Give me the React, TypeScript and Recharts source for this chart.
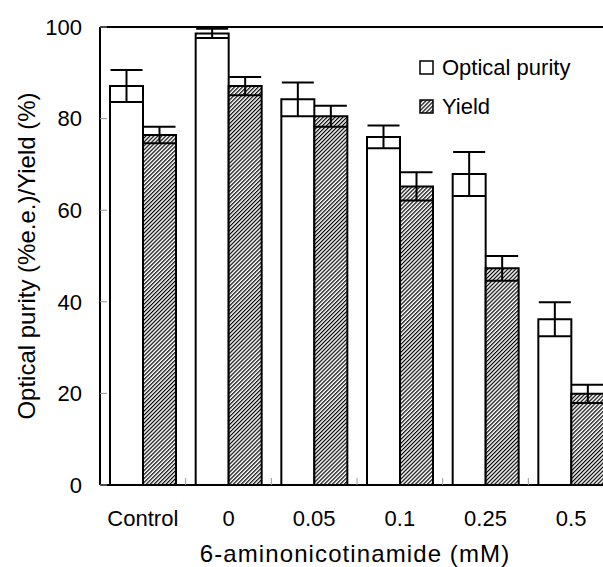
import React from 'react';
import { BarChart, Bar, XAxis, YAxis, ErrorBar, Legend, ReferenceLine } from 'recharts';

const categories = ['Control', '0', '0.05', '0.1', '0.25', '0.5'];
const opticalPurity = [87.1, 98.6, 84.2, 76.0, 67.9, 36.2];
const opticalErr = [3.5, 1.0, 3.7, 2.5, 4.8, 3.7];
const yieldVals = [76.4, 87.1, 80.5, 65.2, 47.3, 19.9];
const yieldErr = [1.8, 2.0, 2.3, 3.1, 2.7, 2.0];
const yTicks = [0, 20, 40, 60, 80, 100];

const data = categories.map((c, i) => ({
  name: c,
  optical: opticalPurity[i],
  opticalErr: opticalErr[i],
  yield: yieldVals[i],
  yieldErr: yieldErr[i],
}));

const FONT = '"Liberation Sans", Arial, sans-serif';
const FS = 22;
const TITLE_FS = 24;

const XTick = (props: any) => {
  const { x, y, payload, index } = props;
  const off = payload && payload.offset ? payload.offset : 514 / 12;
  return (
    <g>
      <text x={x} y={y + 41} textAnchor="middle" fontFamily={FONT} fontSize={FS} fill="#000">
        {payload.value}
      </text>
      {index < categories.length - 1 && (
        <line x1={x + off} x2={x + off} y1={y} y2={y - 7} stroke="#999" strokeWidth={1} />
      )}
    </g>
  );
};

const YLabel = (props: any) => {
  const vb = props.viewBox || { x: 0, y: 27, width: 100, height: 458 };
  const cx = vb.x + 26;
  const cy = vb.y + vb.height / 2;
  return (
    <text
      x={cx}
      y={cy}
      transform={`rotate(-90, ${cx}, ${cy})`}
      textAnchor="middle"
      dominantBaseline="central"
      fontFamily={FONT}
      fontSize={TITLE_FS}
      fill="#000"
    >
      Optical purity (%e.e.)/Yield (%)
    </text>
  );
};

const XLabel = (props: any) => {
  const vb = props.viewBox || { x: 100, y: 485, width: 514, height: 82 };
  return (
    <text
      x={vb.x + vb.width / 2 - 2}
      y={vb.y + 77}
      textAnchor="middle"
      fontFamily={FONT}
      fontSize={TITLE_FS}
      letterSpacing={1.1}
      fill="#000"
    >
      6-aminonicotinamide (mM)
    </text>
  );
};

const Hatch = ({ id }: { id: string }) => (
  <pattern id={id} patternUnits="userSpaceOnUse" width={2.8} height={10} patternTransform="rotate(45)">
    <rect x={0} y={0} width={2.8} height={10} fill="#fff" />
    <rect x={0} y={0} width={1.2} height={10} fill="#000" />
  </pattern>
);

const legendItems = [
  { label: 'Optical purity', fill: '#fff' },
  { label: 'Yield', fill: 'url(#hatchLegend)' },
];

const LegendContent = () => (
  <div style={{ fontFamily: FONT, fontSize: 22, color: '#000' }}>
    <svg width={0} height={0} style={{ position: 'absolute' }}>
      <defs>
        <Hatch id="hatchLegend" />
      </defs>
    </svg>
    {legendItems.map((it) => (
      <div key={it.label} style={{ display: 'flex', alignItems: 'center', height: 39, lineHeight: '39px' }}>
        <svg width={15} height={15} style={{ marginRight: 8 }}>
          <rect x={1} y={1} width={13} height={13} fill={it.fill} stroke="#000" strokeWidth={1.5} />
        </svg>
        <span>{it.label}</span>
      </div>
    ))}
  </div>
);

export default function App() {
  return (
    <div style={{ position: 'absolute', left: 0, top: 0, width: 603, height: 567, overflow: 'hidden', background: '#fff' }}>
      <BarChart
        width={620}
        height={567}
        data={data}
        margin={{ top: 27, right: 6, left: 0, bottom: 0 }}
        barSize={33}
        barGap={0}
      >
        <defs>
          <Hatch id="hatch" />
        </defs>
        <XAxis
          dataKey="name"
          height={82}
          tickSize={0}
          tickMargin={0}
          tickLine={false}
          tick={<XTick />}
          axisLine={{ stroke: '#000', strokeWidth: 2 }}
          interval={0}
          label={<XLabel />}
        />
        <YAxis
          width={100}
          domain={[0, 100]}
          ticks={yTicks}
          tickSize={-7}
          tickMargin={25}
          tickLine={{ stroke: '#999', strokeWidth: 1 }}
          axisLine={{ stroke: '#000', strokeWidth: 2 }}
          tick={{ fontFamily: FONT, fontSize: FS, fill: '#000' }}
          label={<YLabel />}
        />
        <ReferenceLine y={100} stroke="#000" strokeWidth={2} />
        <Legend
          layout="vertical"
          align="center"
          verticalAlign="middle"
          content={<LegendContent />}
          wrapperStyle={{ position: 'absolute', left: 419, top: 48, width: 184 }}
        />
        <Bar dataKey="optical" name="Optical purity" fill="#fff" stroke="#000" strokeWidth={2} isAnimationActive={false}>
          <ErrorBar dataKey="opticalErr" width={16} stroke="#000" strokeWidth={2} />
        </Bar>
        <Bar dataKey="yield" name="Yield" fill="url(#hatch)" stroke="#000" strokeWidth={2} isAnimationActive={false}>
          <ErrorBar dataKey="yieldErr" width={16} stroke="#000" strokeWidth={2} />
        </Bar>
      </BarChart>
    </div>
  );
}
